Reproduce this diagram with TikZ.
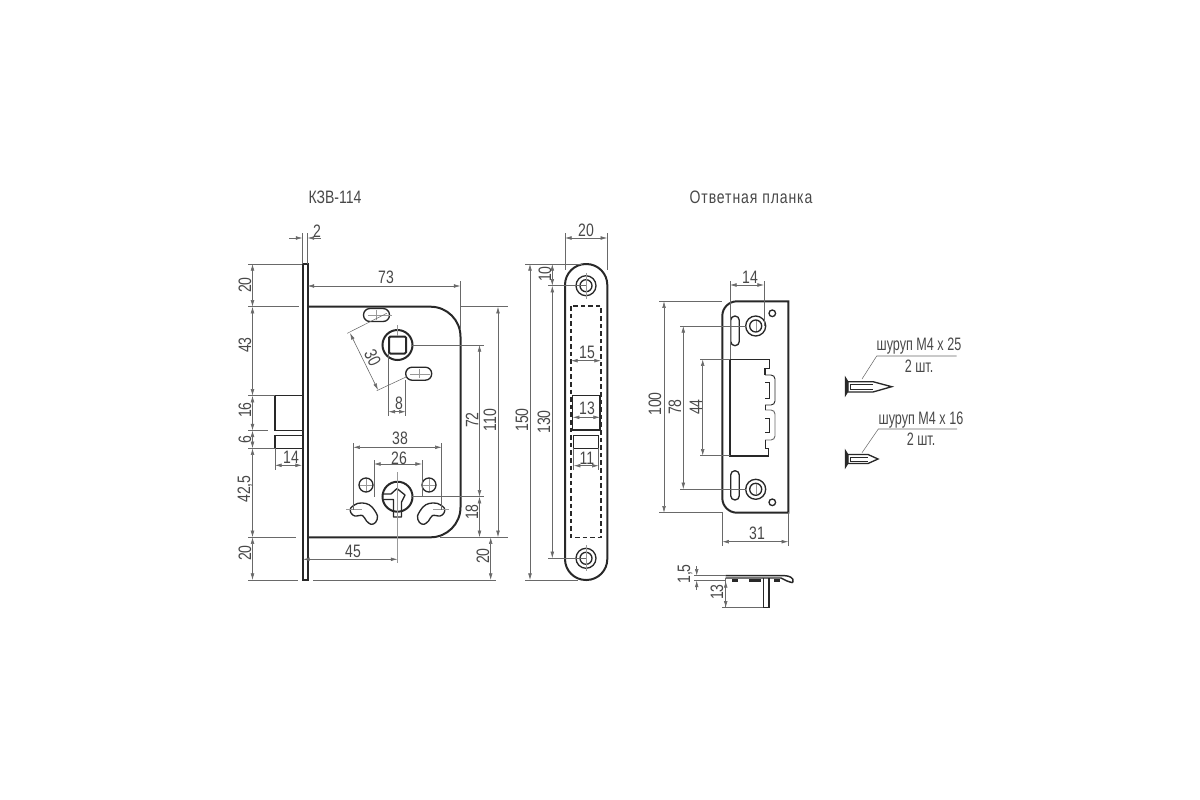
\documentclass[tikz,border=0pt]{standalone}
\usepackage{fontspec}
\usepackage{tikz}
\usetikzlibrary{arrows.meta}
\setmainfont[FakeStretch=0.78]{Liberation Sans}
\newfontfamily\narrowfont[FakeStretch=0.7]{Liberation Sans}
\newfontfamily\spacedfont[FakeStretch=0.78,LetterSpace=5]{Liberation Sans}
\definecolor{dimgray}{RGB}{105, 105, 105}
\definecolor{outline}{RGB}{40, 40, 40}
\tikzset{
	tip/.tip={Latex[length=5pt,width=2.8pt]},
	part/.style={outline, line width=1.5pt},
	thinpart/.style={outline, line width=1pt},
	hidden/.style={outline, line width=0.8pt, dash pattern=on 3.5pt off 2.2pt},
	ext/.style={dimgray, line width=0.4pt},
	axis/.style={gray!80, line width=0.3pt},
	dim/.style={dimgray, line width=0.45pt, tip-tip},
	lbl/.style={text=outline!85, font=\fontsize{13.5}{13.5}\selectfont, inner sep=0pt},
	vlbl/.style={lbl, rotate=90}
}

\begin{document}
\begin{tikzpicture}[x=0.75pt, y=-0.75pt]
	\useasboundingbox (0,0) rectangle (1200,800);
	\node[lbl] (title1) at (335,197) {КЗВ-114};
	\node[lbl, font=\fontsize{13.5}{13.5}\selectfont\spacedfont] (title2) at (751,197) {Ответная планка};

	% Lock, side plate and body
	\draw[part, fill=white] (302.5,264) rectangle (307.5,580);
	\draw[part, rounded corners=22.5pt] (307.5,306.7) -- (460.5,306.7) -- (460.5,537.3) -- (307.5,537.3);
	\draw[thinpart] (302,395.7) -- (275,395.7) -- (275,430.5) -- (302,430.5);
	\draw[thinpart] (302,435.7) -- (275,435.7) -- (275,448.3) -- (302,448.3);
	% Lock, slots and holes
	\draw[thinpart, rounded corners=4.8pt] (363.5,308.5) rectangle (389.5,321.5);
	\draw[thinpart, rounded corners=4.8pt] (405.7,367.2) rectangle (431.7,380.2);
	\draw[part] (397.5,345) circle (15);
	\draw[part, rounded corners=1pt] (389,336.5) rectangle (406,353.5);
	\draw[thinpart] (366,485) circle (7);
	\draw[thinpart] (429,485) circle (7);
	\draw[part] (397.5,496.7) circle (15);
	\draw[thinpart, line join=round] (382,494) -- (391,494) -- (397,488.5) -- (405,495) -- (401.5,502) -- (401.5,517) -- (393.5,517) -- (393.5,499.5) -- (382,499.5);
	\draw[thinpart] plot[smooth cycle, tension=0.55] coordinates {(350.7,508) (358,503.3) (366,503.5) (372,507) (377.5,516) (375.5,522.5) (371,524.3) (366.5,521) (362.5,515.5) (355,516) (351,513)};
	\draw[thinpart] plot[smooth cycle, tension=0.55] coordinates {(444.3,508) (437,503.3) (429,503.5) (423,507) (417.5,516) (419.5,522.5) (424,524.3) (428.5,521) (432.5,515.5) (440,516) (444,513)};
	% Lock, axis marks
	\draw[axis] (397.5,325) -- (397.5,336);
	\draw[axis] (368,315) -- (392,315);
	\draw[axis] (376.5,310) -- (376.5,320);
	\draw[axis] (410,373.7) -- (430,373.7);
	\draw[axis] (418.7,369) -- (418.7,378);
	\draw[axis] (397.5,472) -- (397.5,563);
	\draw[axis] (360,485) -- (372,485);
	\draw[axis] (366,479) -- (366,491);
	\draw[axis] (423,485) -- (435,485);
	\draw[axis] (429,479) -- (429,491);
	\draw[axis] (346,509) -- (362,509);
	\draw[axis] (433,509) -- (449,509);
	% Lock, extension lines
	\draw[ext] (302.5,233) -- (302.5,264);
	\draw[ext] (307.5,233) -- (307.5,264);
	\draw[ext] (460.5,281) -- (460.5,330);
	\draw[ext] (248,264) -- (302,264);
	\draw[ext] (248,306.7) -- (299,306.7);
	\draw[ext] (248,395.7) -- (275,395.7);
	\draw[ext] (248,430.5) -- (268,430.5);
	\draw[ext] (248,448.3) -- (275,448.3);
	\draw[ext] (248,537.3) -- (296,537.3);
	\draw[ext] (248,580) -- (298,580);
	\draw[ext] (313,580) -- (496,580);
	\draw[ext] (460,306.7) -- (508,306.7);
	\draw[ext] (440,537.3) -- (508,537.3);
	\draw[ext] (412,345) -- (484,345);
	\draw[ext] (412,496.7) -- (484,496.7);
	\draw[ext] (275,448) -- (275,470);
	\draw[ext] (388.5,353) -- (388.5,416);
	\draw[ext] (405.7,380) -- (405.7,416);
	\draw[ext] (353.3,443) -- (353.3,510);
	\draw[ext] (441.7,443) -- (441.7,510);
	\draw[ext] (374,460) -- (374,497);
	\draw[ext] (422,460) -- (422,497);
	\draw[ext] (386.7,313.3) -- (347.3,333.3);
	\draw[ext] (406.7,376.7) -- (376.7,390.7);
	% Lock, dimensions
	\draw[dim, tip-] (302.5,238) -- (289,238);
	\draw[dim, tip-] (307.5,238) -- (321,238);
	\node[lbl] (d2) at (317,231) {2};
	\draw[dim] (252.5,264) -- (252.5,306.7);
	\node[vlbl] (d20a) at (245,285) {20};
	\draw[dim] (252.5,306.7) -- (252.5,395.7);
	\node[vlbl] (d43) at (245,345) {43};
	\draw[dim] (252.5,395.7) -- (252.5,430.5);
	\node[vlbl] (d16) at (245,410) {16};
	\draw[dim] (252.5,430.5) -- (252.5,448.3);
	\node[vlbl] (d6) at (245,440) {6};
	\draw[dim] (252.5,448.3) -- (252.5,537.3);
	\node[vlbl] (d425) at (245,489) {42,5};
	\draw[dim] (252.5,537.3) -- (252.5,580);
	\node[vlbl] (d20b) at (245,553) {20};
	\draw[dim] (307.5,286) -- (460.5,286);
	\node[lbl] (d73) at (386,277) {73};
	\draw[dim] (275,465.3) -- (302,465.3);
	\node[lbl] (d14) at (291,457) {14};
	\draw[dim] (303,559.3) -- (397.5,559.3);
	\node[lbl] (d45) at (353,551) {45};
	\draw[dim] (388.5,411.7) -- (405.7,411.7);
	\node[lbl] (d8) at (399,403) {8};
	\draw[dim] (350,333) -- (378,390);
	\node[lbl, rotate=-64] (d30) at (372.7,358) {30};
	\draw[dim] (353.3,447.3) -- (441.7,447.3);
	\node[lbl] (d38) at (400,438) {38};
	\draw[dim] (374,464) -- (422,464);
	\node[lbl] (d26) at (399,458) {26};
	\draw[dim] (479.5,345) -- (479.5,496.7);
	\node[vlbl] (d72) at (472,420) {72};
	\draw[dim] (479.5,496.7) -- (479.5,537.3);
	\node[vlbl] (d18) at (472,512) {18};
	\draw[dim] (498,306.7) -- (498,537.3);
	\node[vlbl] (d110) at (490,420) {110};
	\draw[dim] (490.7,537.3) -- (490.7,580);
	\node[vlbl] (d20c) at (483,556) {20};

	% Front plate
	\draw[part, rounded corners=15.7pt] (565,264) rectangle (607.3,580);
	\foreach \ypos in {285.7,558.3}{
		\draw[thinpart] (586,\ypos) circle (10);
		\draw[thinpart] (586,\ypos) circle (6);
		\draw[axis] (586,\ypos-13) -- (586,\ypos+13);
		\draw[ext] (548,\ypos) -- (586,\ypos);
	}
	\draw[hidden] (571,306) rectangle (601,537.7);
	\draw[thinpart] (572.7,395.7) rectangle (600,430);
	\draw[thinpart] (573.7,435.7) rectangle (598.7,448.3);
	\draw[ext] (565,233) -- (565,270);
	\draw[ext] (607.3,233) -- (607.3,270);
	\draw[ext] (525,264) -- (582,264);
	\draw[ext] (525,580) -- (578,580);
	\draw[ext] (573.7,448) -- (573.7,470);
	\draw[ext] (598.7,448) -- (598.7,470);
	\draw[dim] (565,238) -- (607.3,238);
	\node[lbl] (f20) at (586,230) {20};
	\draw[dim] (571,360.7) -- (601,360.7);
	\node[lbl] (f15) at (587,352) {15};
	\draw[dim] (572.7,417.3) -- (600,417.3);
	\node[lbl] (f13) at (587,408) {13};
	\draw[dim] (573.7,465.7) -- (598.7,465.7);
	\node[lbl] (f11) at (587,458) {11};
	\draw[dim] (552.3,264) -- (552.3,285.7);
	\node[vlbl] (f10) at (545,274) {10};
	\draw[dim] (552.3,285.7) -- (552.3,558.3);
	\node[vlbl] (f130) at (544,422) {130};
	\draw[dim] (530,264) -- (530,580);
	\node[vlbl] (f150) at (522,420) {150};

	% Strike plate
	\draw[part] (788.3,301.3) -- (737,301.3) to[out=180,in=90] (722.3,316) -- (722.3,498) to[out=270,in=180] (737,512.7) -- (788.3,512.7) -- cycle;
	\draw[thinpart, rounded corners=3.2pt] (730.7,316) rectangle (739.3,345.7);
	\draw[thinpart, rounded corners=3.2pt] (730.7,470.7) rectangle (739.3,500);
	\foreach \ypos in {326,489.3}{
		\draw[thinpart] (755.7,\ypos) circle (10);
		\draw[thinpart] (755.7,\ypos) circle (6);
		\draw[axis] (755.7,\ypos-5) -- (755.7,\ypos+5);
		\draw[ext] (680,\ypos) -- (746,\ypos);
	}
	\draw[thinpart] (772.3,313.3) circle (3.3);
	\draw[thinpart] (772.3,502.3) circle (3.3);
	\draw[thinpart] (769.3,359.3) -- (769.3,368.3) -- (765,368.3) -- (765,375);
	\draw[part, line width=1.2pt] (769.3,359.3) -- (730,359.3) -- (730,455.7) -- (769.3,455.7);
	\draw[thinpart, line width=0.7pt, rounded corners=3pt] (765,375) -- (775,375) -- (775,405) -- (765,405);
	\draw[thinpart, line width=0.7pt, rounded corners=3pt, dimgray] (765,410) -- (775,410) -- (775,440) -- (765,440);
	\draw[thinpart, line width=0.7pt] (765,405) -- (765,410);
	\draw[thinpart, line width=0.7pt] (765,440) -- (765,448.3) -- (768.3,448.3) -- (768.3,455.7);
	\draw[thinpart, line width=0.7pt] (765,382.7) -- (769.3,382.7) -- (769.3,398.3) -- (765,398.3);
	\draw[thinpart, line width=0.7pt] (765,418.3) -- (769.3,418.3) -- (769.3,432.3) -- (765,432.3);
	\draw[ext] (730,281) -- (730,359);
	\draw[ext] (764,281) -- (764,326);
	\draw[ext] (659,301.3) -- (722,301.3);
	\draw[ext] (659,512.7) -- (722,512.7);
	\draw[ext] (700,359.3) -- (730,359.3);
	\draw[ext] (700,455.7) -- (730,455.7);
	\draw[ext] (722.3,512) -- (722.3,546);
	\draw[ext] (788.3,512) -- (788.3,546);
	\draw[dim] (730,285) -- (764,285);
	\node[lbl] (s14) at (750,277) {14};
	\draw[dim] (664,301.3) -- (664,512.7);
	\node[vlbl] (s100) at (655,404) {100};
	\draw[dim] (683.3,326) -- (683.3,489.3);
	\node[vlbl] (s78) at (675,407) {78};
	\draw[dim] (702.7,359.3) -- (702.7,455.7);
	\node[vlbl] (s44) at (696,407) {44};
	\draw[dim] (722.3,541.7) -- (788.3,541.7);
	\node[lbl] (s31) at (757,533) {31};

	% Strike plate, profile
	\draw[part, line width=1.1pt] (725.7,575.7) -- (785,575.7) to[out=0,in=70] (793,581.7) to[out=250,in=0] (787,581) to[out=180,in=0] (781,578) -- (725.7,578);
	\draw[thinpart] (763.3,578) -- (763.3,607.7) -- (769,607.7) -- (769,578);
	\fill[outline] (732,582) -- (738,582) -- (738,579) -- (732,579) -- cycle;
	\fill[outline] (748.5,582) -- (761,582) -- (761,578.5) -- (748.5,578.5) -- cycle;
	\fill[outline] (773.5,582) -- (780,582) -- (780,579) -- (773.5,579) -- cycle;
	\draw[ext] (694,575.7) -- (725.7,575.7);
	\draw[ext] (694,580.5) -- (725.7,580.5);
	\draw[ext] (725.7,578) -- (725.7,607.7);
	\draw[ext] (722,607.7) -- (763,607.7);
	\draw[dim, tip-] (696.7,575.7) -- (696.7,566);
	\draw[dim, tip-] (696.7,580.5) -- (696.7,590);
	\node[vlbl] (p15) at (685,574) {1,5};
	\draw[dim] (725.7,581) -- (725.7,607.7);
	\node[vlbl] (p13) at (717,592) {13};

	% Screws
	\draw[thinpart, fill=outline] (845.5,378) -- (848,382) -- (848,391) -- (845.5,395) -- cycle;
	\draw[thinpart] (848,381.7) -- (873,381.7) -- (891.7,386.7) -- (873,392) -- (848,392);
	\draw[thinpart, line width=0.7pt] (850,384.5) -- (850,389.3) -- (873,389.3);
	\draw[thinpart, line width=0.7pt] (850,384.5) -- (873,384.5);
	\draw[ext] (862,379) -- (876.7,356) -- (956.7,356);
	\node[lbl, font=\fontsize{13.5}{13.5}\selectfont\narrowfont] (sc1) at (919,346) {шуруп М4 х 25};
	\node[lbl, font=\fontsize{13.5}{13.5}\selectfont\narrowfont] (sc1n) at (919,366) {2 шт.};
	\draw[thinpart, fill=outline] (845.5,451) -- (848,455) -- (848,463) -- (845.5,467) -- cycle;
	\draw[thinpart] (848,454.5) -- (868,454.5) -- (878,459) -- (868,463.5) -- (848,463.5);
	\draw[thinpart, line width=0.7pt] (850,457) -- (850,461.3) -- (868,461.3);
	\draw[thinpart, line width=0.7pt] (850,457) -- (868,457);
	\draw[ext] (862,452.7) -- (878.3,429) -- (957,429);
	\node[lbl, font=\fontsize{13.5}{13.5}\selectfont\narrowfont] (sc2) at (921,420) {шуруп М4 х 16};
	\node[lbl, font=\fontsize{13.5}{13.5}\selectfont\narrowfont] (sc2n) at (921,439) {2 шт.};
\end{tikzpicture}
\end{document}
